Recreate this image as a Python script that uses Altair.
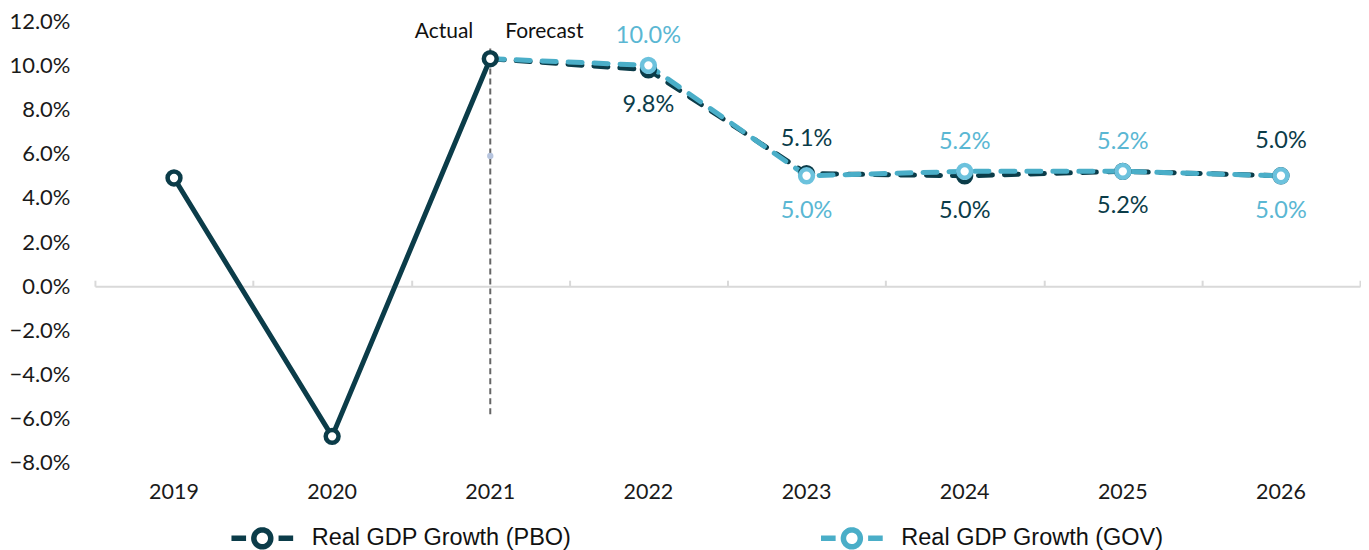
import altair as alt
import pandas as pd

# ---- data ----
years = ["2019", "2020", "2021", "2022", "2023", "2024", "2025", "2026"]
pbo_values = [4.9, -6.8, 10.3, 9.8, 5.1, 5.0, 5.2, 5.0]
gov_years = ["2021", "2022", "2023", "2024", "2025", "2026"]
gov_values = [10.3, 10.0, 5.0, 5.2, 5.2, 5.0]
label_years = ["2022", "2023", "2024", "2025", "2026"]
pbo_label_side = ["below", "above", "below", "below", "above"]
gov_label_side = ["above", "below", "above", "above", "below"]
split_year = "2021"
rule_range = [-5.8, 10.9]
phase_text_level = 11.5
faint_dot_value = 5.9
y_ticks = [-8, -6, -4, -2, 0, 2, 4, 6, 8, 10, 12]
series_names = ["Real GDP Growth (PBO)", "Real GDP Growth (GOV)"]

# ---- styling ----
PBO_COLOR = "#0b3c49"
GOV_LINE = "#4aaec8"
GOV_MARK = "#6cc2dd"
GOV_TEXT = "#5ab7d3"
FONT = "Lato"
W, H = 1266, 442
Y_MIN, Y_MAX = -8, 12

pbo_df = pd.DataFrame({"year": years, "value": pbo_values, "series": series_names[0]})
gov_df = pd.DataFrame({"year": gov_years, "value": gov_values, "series": series_names[1]})
split_idx = years.index(split_year)
pbo_actual = pbo_df.iloc[: split_idx + 1]
pbo_fore = pbo_df.iloc[split_idx:]
gov_marks = gov_df[gov_df["year"] != split_year]

pbo_lab = pbo_df[pbo_df["year"].isin(label_years)].copy()
pbo_lab["side"] = pbo_label_side
gov_lab = gov_df[gov_df["year"].isin(label_years)].copy()
gov_lab["side"] = gov_label_side
for d in (pbo_lab, gov_lab):
    d["txt"] = d["value"].map(lambda v: f"{v:.1f}%")

xscale = alt.Scale(type="band", domain=years, paddingInner=0, paddingOuter=0)
yscale = alt.Scale(domain=[Y_MIN, Y_MAX], nice=False, zero=False)
yaxis = alt.Axis(values=y_ticks, labelExpr="format(datum.value, '.1f') + '%'",
                 grid=False, domain=False, ticks=False, labelPadding=25,
                 labelFont=FONT, labelFontSize=22, labelColor="#1a1a1a", title=None)
x_bottom = alt.X("year:N", scale=xscale,
                 axis=alt.Axis(orient="bottom", domain=False, ticks=False, tickSize=0,
                               labelPadding=19, labelFont=FONT, labelFontSize=21.5,
                               labelFontWeight="normal",
                               labelColor="#1a1a1a", labelAngle=0, title=None))
x_plain = alt.X("year:N", scale=xscale, axis=None)
zero_px = H * (Y_MAX - 0) / (Y_MAX - Y_MIN)
x_zero = alt.X("year:N", scale=xscale,
               axis=alt.Axis(orient="top", offset=-zero_px, labels=False, ticks=True,
                             tickBand="extent", tickSize=6, tickColor="#d9d9d9",
                             tickWidth=2, domain=True, domainColor="#d9d9d9",
                             domainWidth=2, title=None))
y_enc = alt.Y("value:Q", scale=yscale, axis=yaxis)
color = alt.Color("series:N", scale=alt.Scale(domain=series_names, range=[PBO_COLOR, GOV_LINE]),
                  legend=alt.Legend(
                      title=None, orient="none", legendX=132, legendY=482,
                      direction="horizontal",
                      symbolType="M-0.95,0L-0.5,0M0.5,0L0.95,0M-0.26,0A0.26,0.26,0,1,0,0.26,0A0.26,0.26,0,1,0,-0.26,0Z",
                      symbolSize=4225, symbolStrokeWidth=5.5, symbolDash=[1, 0],
                      symbolFillColor="white", labelLimit=500,
                      labelFont="Liberation Sans", labelFontSize=23.5, labelColor="#111111",
                      labelOffset=14, columnPadding=238))

rule_df = pd.DataFrame({"year": [split_year], "value": [rule_range[0]], "hi": [rule_range[1]]})
rule = alt.Chart(rule_df).mark_rule(color="#666666", strokeWidth=2, strokeDash=[6, 4]).encode(
    x=x_zero, y=y_enc, y2="hi:Q")

dot_df = pd.DataFrame({"year": [split_year], "value": [faint_dot_value]})
dot = alt.Chart(dot_df).mark_circle(color="#b6c4de", size=40, opacity=1).encode(
    x=x_bottom, y=y_enc)

line_props = dict(strokeWidth=5, strokeCap="round", strokeJoin="round")
pbo_solid = alt.Chart(pbo_actual).mark_line(**line_props).encode(
    x=x_plain, y=y_enc, color=color)
pbo_dash = alt.Chart(pbo_fore).mark_line(strokeDash=[14, 12], **line_props).encode(
    x=x_plain, y=y_enc, color=color)
gov_dash = alt.Chart(gov_df).mark_line(strokeDash=[14, 12], **line_props).encode(
    x=x_plain, y=y_enc, color=color)

pbo_pts = alt.Chart(pbo_df).mark_point(filled=False, fill="white", fillOpacity=1, size=165,
                                       strokeWidth=4.5, color=PBO_COLOR, opacity=1).encode(
    x=x_plain, y=y_enc)
gov_pts = alt.Chart(gov_marks).mark_point(filled=False, fill="white", fillOpacity=1, size=165,
                                          strokeWidth=4.5, color=GOV_MARK, opacity=1).encode(
    x=x_plain, y=y_enc)

def labels(df, side, col, dy):
    return alt.Chart(df[df["side"] == side]).mark_text(
        font=FONT, fontSize=23.5, color=col, dy=dy, baseline="middle").encode(
        x=x_plain, y=y_enc, text="txt:N")

lab_layers = [labels(pbo_lab, "above", PBO_COLOR, -35), labels(pbo_lab, "below", PBO_COLOR, 35),
              labels(gov_lab, "above", GOV_TEXT, -29), labels(gov_lab, "below", GOV_TEXT, 35)]

phase_df = pd.DataFrame({"year": [split_year], "value": [phase_text_level]})
actual_t = alt.Chart(phase_df).mark_text(text="Actual", font=FONT, fontSize=21, color="#111111",
                                          align="right", dx=-17, baseline="middle").encode(
    x=x_plain, y=y_enc)
fore_t = alt.Chart(phase_df).mark_text(text="Forecast", font=FONT, fontSize=21, color="#111111",
                                        align="left", dx=15, baseline="middle").encode(
    x=x_plain, y=y_enc)

chart = alt.layer(rule, dot, pbo_solid, pbo_dash, gov_dash, pbo_pts, gov_pts,
                  actual_t, fore_t, *lab_layers).resolve_axis(x="independent").properties(
    width=W, height=H, padding={"left": 0, "top": 2, "right": 0, "bottom": 0}
).configure_view(stroke=None)

chart.save("out.html", embed_options={"renderer": "svg", "actions": False})
